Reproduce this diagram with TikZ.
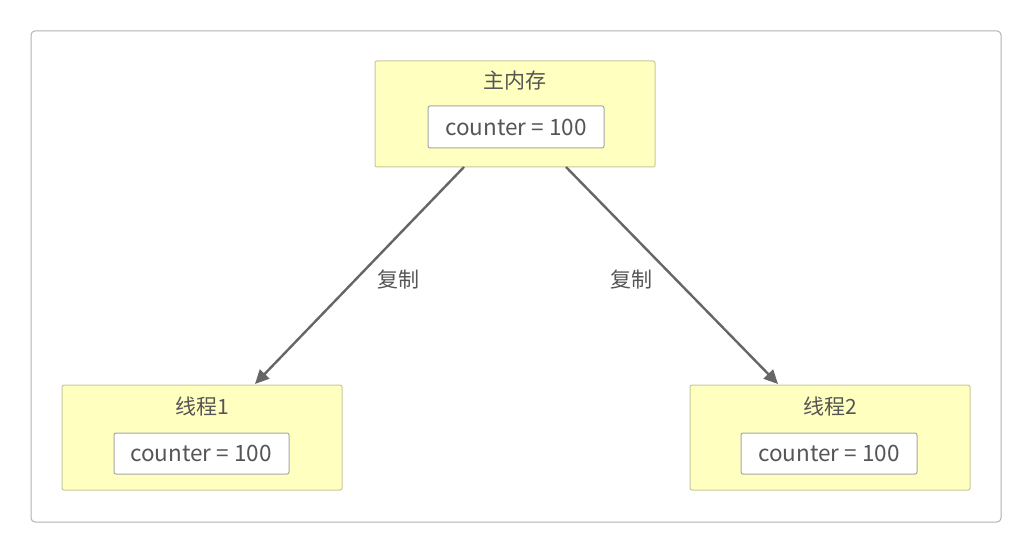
\documentclass[tikz,border=0pt]{standalone}
\usepackage{fontspec}
\setmainfont{Noto Sans CJK SC}
\usetikzlibrary{arrows.meta}
\definecolor{boxfill}{HTML}{FFFFC0}
\definecolor{boxline}{HTML}{C8C89A}
\definecolor{txt}{HTML}{555555}
\definecolor{arr}{HTML}{666666}
\begin{document}
\begin{tikzpicture}[x=1pt,y=-1pt,
  outer/.style={draw=black!30,rounded corners=4pt,line width=1pt},
  ybox/.style={draw=boxline,fill=boxfill,rounded corners=2pt,line width=1pt},
  wbox/.style={draw=black!35,fill=white,rounded corners=2pt,line width=1pt},
  title/.style={font=\fontsize{21}{24}\selectfont,text=txt},
  ctext/.style={font=\fontsize{22.5}{26}\selectfont,text=txt},
  conn/.style={draw=arr,line width=2.4pt,-{Triangle[length=14pt,width=13pt]}},
  lbl/.style={font=\fontsize{21}{24}\selectfont,text=txt}]
\useasboundingbox (0,0) rectangle (1032,553);
\fill[white] (0,0) rectangle (1032,553);
\draw[outer] (31,31) rectangle (1001,522);
% main memory
\draw[ybox] (375,61) rectangle (655,167);
\node[title] (t0) at (515,81) {主内存};
\draw[wbox] (428,106) rectangle (604,148);
\node[ctext] (c0) at (516,127) {counter = 100};
% thread 1
\draw[ybox] (62,385) rectangle (342,490);
\node[title] (t1) at (202,406) {线程1};
\draw[wbox] (114,433) rectangle (289,474);
\node[ctext] (c1) at (201,453) {counter = 100};
% thread 2
\draw[ybox] (690,385) rectangle (970,490);
\node[title] (t2) at (830,406) {线程2};
\draw[wbox] (741,433) rectangle (917,474);
\node[ctext] (c2) at (829,453) {counter = 100};
% connectors
\coordinate (a1) at (464,167);
\coordinate (b1) at (255,384);
\coordinate (a2) at (566,167);
\coordinate (b2) at (778,384);
\draw[conn] (a1) -- (b1);
\draw[conn] (a2) -- (b2);
\node[lbl] (l1) at (398,280) {复制};
\node[lbl] (l2) at (631,280) {复制};
\end{tikzpicture}
\end{document}
